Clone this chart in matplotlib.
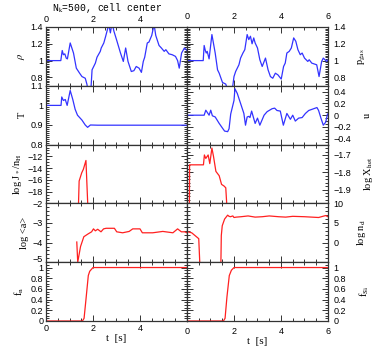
import matplotlib
matplotlib.use('Agg')
import matplotlib.pyplot as plt
from matplotlib.ticker import MultipleLocator

# density / temperature (left), pressure / velocity (right)
t_rho = [0, 0.63, 0.69, 0.74, 0.8, 0.86, 0.91, 1.03, 1.1, 1.17, 1.29, 1.43, 1.53, 1.67, 1.74, 1.8,
         1.91, 1.96, 2.1, 2.17, 2.31, 2.35, 2.46, 2.54, 2.67, 2.74, 2.81, 2.89, 3.0, 3.17, 3.29, 3.39,
         3.49, 3.63, 3.74, 3.84, 3.96, 4.06, 4.14, 4.2, 4.31, 4.38, 4.5, 4.6, 4.67, 4.81, 4.91, 5.03,
         5.1, 5.23, 5.37, 5.51, 5.6, 5.67, 5.77, 5.89, 6.0]
rho = [1.0, 1.0, 1.12, 1.07, 1.08, 1.03, 1.02, 1.21, 1.15, 1.09, 0.91, 0.85, 0.81, 0.79, 0.72, 0.62,
       0.65, 0.89, 0.97, 1.04, 1.11, 1.15, 1.21, 1.29, 1.43, 1.33, 1.45, 1.35, 1.25, 1.09, 0.99, 1.15,
       0.99, 0.87, 0.88, 0.93, 0.91, 0.86, 0.99, 1.04, 1.21, 1.22, 1.3, 1.43, 1.3, 1.18, 1.15, 1.11,
       1.13, 1.08, 1.07, 1.05, 1.0, 0.91, 1.09, 1.15, 1.12]

t_p = [0, 0.69, 0.73, 0.78, 0.82, 0.86, 0.94, 1.06, 1.2, 1.3, 1.37, 1.51, 1.65, 1.72, 1.85, 1.93,
       2.0, 2.07, 2.21, 2.28, 2.38, 2.46, 2.56, 2.63, 2.7, 2.77, 2.84, 2.9, 3.0, 3.1, 3.2, 3.34, 3.45,
       3.55, 3.65, 3.76, 3.87, 4.01, 4.11, 4.18, 4.25, 4.35, 4.44, 4.54, 4.63, 4.72, 4.82, 4.9, 5.0,
       5.14, 5.2, 5.31, 5.52, 5.62, 5.73, 5.8, 5.94, 6.0]
p_gas = [1.0, 1.0, 1.18, 1.12, 1.09, 1.11, 1.02, 1.31, 1.09, 0.89, 0.85, 0.74, 0.72, 0.66, 0.6, 0.66,
         0.81, 0.87, 0.95, 1.03, 1.09, 1.13, 1.31, 1.25, 1.29, 1.2, 1.27, 1.21, 1.15, 1.01, 0.93, 1.03,
         0.89, 0.81, 0.79, 0.85, 0.83, 0.78, 0.93, 0.97, 1.09, 1.11, 1.15, 1.27, 1.23, 1.13, 1.07, 1.09,
         1.03, 0.99, 1.01, 0.97, 0.95, 0.81, 0.99, 1.03, 0.99, 1.01]

t_T = [0, 0.64, 0.67, 0.74, 0.82, 0.9, 1.03, 1.14, 1.24, 1.34, 1.53, 1.67, 1.77, 1.89, 2.2, 6.0]
temp = [1.0, 1.0, 1.043, 1.025, 1.03, 1.0, 1.076, 1.03, 0.98, 0.95, 0.925, 0.90, 0.888, 0.90, 0.899, 0.899]

t_u = [0, 0.73, 0.8, 0.94, 1.01, 1.08, 1.2, 1.37, 1.51, 1.6, 1.73, 1.79, 1.86, 2.0, 2.04, 2.14, 2.28,
       2.42, 2.49, 2.56, 2.63, 2.68, 2.75, 2.9, 3.0, 3.1, 3.28, 3.41, 3.62, 3.73, 3.83, 3.97, 4.1, 4.25,
       4.4, 4.5, 4.61, 4.75, 4.9, 5.04, 5.18, 5.39, 5.53, 5.6, 5.7, 5.8, 5.9, 5.98]
vel = [0.0, 0.0, 0.085, 0.0, 0.085, -0.01, -0.03, -0.14, -0.22, -0.27, -0.28, -0.23, 0.02, 0.25, 0.45,
       0.37, 0.2, 0.03, -0.17, -0.03, -0.02, -0.04, 0.07, -0.14, -0.05, -0.17, 0.0, 0.06, 0.11, 0.12,
       0.08, 0.07, -0.17, 0.03, -0.07, 0.0, -0.1, -0.05, -0.04, 0.03, 0.08, 0.11, 0.13, 0.08, -0.05,
       -0.17, -0.12, 0.02]

# nucleation rate, heterogeneous fraction
t_J = [1.38, 1.41, 1.52, 1.59, 1.7, 1.78]
logJ = [-20.5, -16.2, -14.8, -14.2, -12.7, -20.5]

t_X = [0.1, 0.11, 0.7, 0.74, 0.8, 0.9, 0.97, 1.06, 1.13, 1.23, 1.37, 1.47, 1.58, 1.65, 1.72]
logX = [-2.05, -1.757, -1.757, -1.70, -1.72, -1.70, -1.75, -1.66, -1.71, -1.795, -1.82, -1.87, -1.88,
        -1.89, -2.05]

# grain size, dust density
t_a = [1.31, 1.35, 1.47, 1.61, 1.8, 1.94, 2.02, 2.1, 2.2, 2.34, 2.45, 2.56, 2.91, 3.01, 3.26, 3.54,
       3.69, 4.0, 4.1, 4.54, 4.97, 5.4, 5.6, 5.76, 5.9, 6.0]
loga = [-3.97, -5.0, -4.2, -3.7, -3.55, -3.45, -3.3, -3.4, -3.32, -3.45, -3.3, -3.27, -3.27, -3.45,
        -3.5, -3.43, -3.3, -3.3, -3.5, -3.5, -3.43, -3.5, -3.3, -3.45, -3.45, -3.5]

t_n = [0, 0.2, 0.5, 0.55, 1.44, 1.46, 1.5, 1.6, 1.73, 1.79, 1.85, 1.95, 2.0, 2.1, 2.3, 2.6, 2.9, 3.2,
       3.5, 3.9, 4.2, 4.5, 5.0, 5.3, 5.6, 5.9, 6.0]
lognd = [2.8, 2.5, 1.0, -6, -6, 1.8, 4.3, 6.0, 7.0, 6.7, 6.6, 6.8, 6.4, 6.5, 6.6, 6.8, 6.5, 6.6, 6.8,
         6.6, 6.5, 6.7, 6.6, 6.5, 6.4, 6.9, 6.6]

# condensed fractions
t_fn = [0, 1.55, 1.62, 1.7, 1.8, 1.86, 2.0, 6.0]
f_n = [0, 0, 0.05, 0.4, 0.85, 0.93, 1.0, 1.0]
t_fsi = [0, 1.55, 1.62, 1.7, 1.8, 1.89, 2.0, 6.0]
f_si = [0, 0, 0.05, 0.45, 0.85, 0.95, 1.0, 1.0]

blue = '#3333ff'
red = '#ff2020'
plt.rcParams['mathtext.fontset'] = 'stix'

fig, axs = plt.subplots(5, 2, figsize=(3.78, 3.52), dpi=100)
plt.subplots_adjust(left=0.1217, right=0.8677, top=0.9233, bottom=0.0881, wspace=0, hspace=0)

panels = [
    # (ax, x, y, color, ylim, yticks, ticklabels, minor step, label)
    (axs[0, 0], t_rho, rho, blue, (0.7, 1.4), [0.8, 1.0, 1.2, 1.4], ['0.8', '1', '1.2', '1.4'], 0.02, r'$\rho$'),
    (axs[0, 1], t_p, p_gas, blue, (0.7, 1.4), [0.8, 1.0, 1.2, 1.4], ['0.8', '1', '1.2', '1.4'], 0.02, r'p$_{\rm gas}$'),
    (axs[1, 0], t_T, temp, blue, (0.8, 1.1), [0.8, 0.9, 1.0, 1.1], ['0.8', '0.9', '1', '1.1'], 0.01, 'T'),
    (axs[1, 1], t_u, vel, blue, (-0.5, 0.5), [-0.4, -0.2, 0, 0.2, 0.4], ['\u22120.4', '\u22120.2', '0', '0.2', '0.4'], 0.05, 'u'),
    (axs[2, 0], t_J, logJ, red, (-20, -10), [-18, -16, -14, -12], ['\u221218', '\u221216', '\u221214', '\u221212'], 0.5, r'log J$_*$/n$_{\rm H}$'),
    (axs[2, 1], t_X, logX, red, (-1.98, -1.64), [-1.9, -1.8, -1.7], ['\u22121.9', '\u22121.8', '\u22121.7'], 0.02, r'log X$_{\rm het}$'),
    (axs[3, 0], t_a, loga, red, (-5, -2), [-5, -4, -3, -2], ['\u22125', '\u22124', '\u22123', '\u22122'], 0.2, 'log <a>'),
    (axs[3, 1], t_n, lognd, red, (-5, 10), [0, 5, 10], ['0', '5', '10'], 1, r'log n$_{\rm d}$'),
    (axs[4, 0], t_fn, f_n, red, (0, 1.1), [0, 0.2, 0.4, 0.6, 0.8, 1.0], ['0', '0.2', '0.4', '0.6', '0.8', '1'], 0.05, r'f$_{\rm n}$'),
    (axs[4, 1], t_fsi, f_si, red, (0, 1.1), [0, 0.2, 0.4, 0.6, 0.8, 1.0], ['0', '0.2', '0.4', '0.6', '0.8', '1'], 0.05, r'f$_{\rm Si}$'),
]

for i, (ax, x, y, col, ylim, yt, ytl, mnr, lab) in enumerate(panels):
    row, colm = divmod(i, 2)
    ax.plot(x, y, color=col, lw=0.9)
    ax.set_xlim(0, 6)
    ax.set_ylim(*ylim)
    ax.xaxis.set_minor_locator(MultipleLocator(0.5))
    ax.yaxis.set_minor_locator(MultipleLocator(mnr))
    ax.set_xticks([0, 2, 4, 6])
    ax.set_yticks(yt)
    ax.set_yticklabels(ytl)
    ax.tick_params(which='both', direction='in', top=True, bottom=True, left=True, right=True,
                   labelsize=6.5, pad=2, color='#333333', width=0.7)
    ax.tick_params(which='major', length=4.5)
    ax.tick_params(which='minor', length=2.2)
    for s in ax.spines.values():
        s.set_color('#333333')
        s.set_linewidth(0.9)
    xl = ['0', '2', '4', ''] if colm == 0 else ['0', '2', '4', '6']
    if row == 0:
        ax.tick_params(labeltop=True, labelbottom=False)
        ax.set_xticklabels(xl)
    elif row == 4:
        ax.set_xticklabels(xl)
        ax.set_xlabel('t  [s]', fontsize=8, family='Liberation Serif', labelpad=1)
    else:
        ax.tick_params(labelbottom=False)
    if colm == 1:
        ax.tick_params(labelleft=False, labelright=True, pad=4)
        ax.yaxis.set_label_position('right')
        ax.set_ylabel(lab, fontsize=7.5, family='Liberation Serif', rotation=90, labelpad=8)
    else:
        ax.set_ylabel(lab, fontsize=7.5, family='Liberation Serif', labelpad=3)
    for tl in ax.get_xticklabels() + ax.get_yticklabels():
        tl.set_family('Liberation Sans')

# lift the bottom "-5" label a little so it clears the "1" of the panel below
axs[3, 0].get_yticklabels()[0].set_va('baseline')

fig.text(0.285, 0.997, r'N$_{\rm k}$=500, cell center', ha='center', va='top', fontsize=7,
         family='Liberation Mono')

fig.savefig('out.png', dpi=100)
